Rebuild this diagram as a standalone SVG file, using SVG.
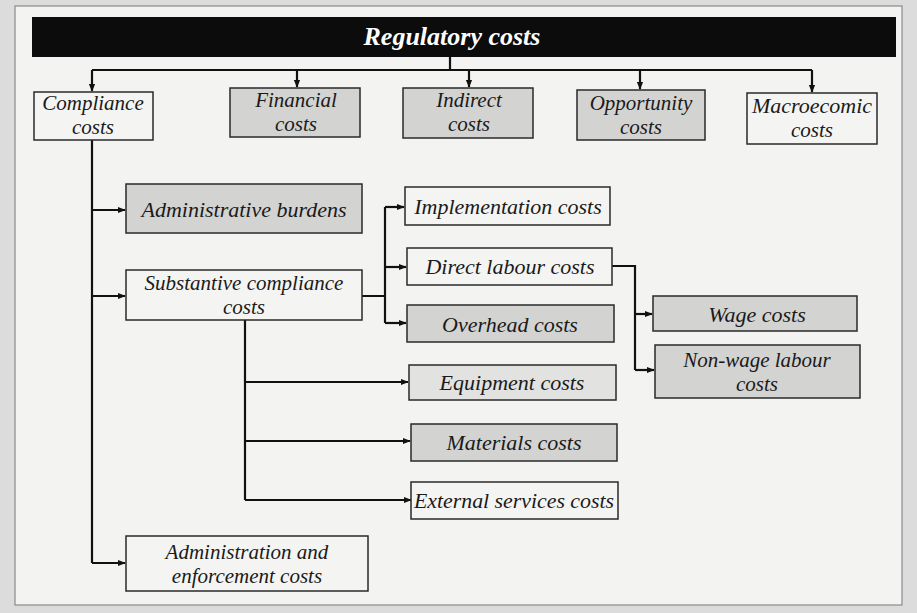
<svg xmlns="http://www.w3.org/2000/svg" width="917" height="613" viewBox="0 0 917 613">
<defs>
<marker id="ah" viewBox="0 0 10 10" refX="9" refY="5" markerWidth="8" markerHeight="8" orient="auto" markerUnits="userSpaceOnUse">
<path d="M0,1 L10,5 L0,9 Z" fill="#111"/>
</marker>
<style>
.bx{stroke:#2a2a2a;stroke-width:1.5}
.g{fill:#d3d3d1}
.w{fill:#f4f4f2}
.t{font-family:"Liberation Serif",serif;font-style:italic;font-size:22px;fill:#1a1a1a;text-anchor:middle}
.t2{font-size:21px}
.c{fill:none;stroke:#111;stroke-width:2.2}
</style>
</defs>
<rect x="0" y="0" width="917" height="613" fill="#dcdcdc"/>
<rect x="15" y="6" width="887" height="599" fill="#f3f3f1" stroke="#8a8a8a" stroke-width="1.2"/>

<g id="title">
<rect x="32" y="17" width="864" height="40" fill="#0c0c0c"/>
<text x="452" y="45" class="t" style="fill:#fff;font-size:26px;font-weight:bold">Regulatory costs</text>
</g>

<g id="connectors">
<path class="c" d="M450,57 V70 M92,70 H812"/>
<path class="c" d="M92,70 V91" marker-end="url(#ah)"/>
<path class="c" d="M297,70 V87" marker-end="url(#ah)"/>
<path class="c" d="M469,70 V87" marker-end="url(#ah)"/>
<path class="c" d="M640,70 V89" marker-end="url(#ah)"/>
<path class="c" d="M812,70 V92" marker-end="url(#ah)"/>
<path class="c" d="M92,140 V563"/>
<path class="c" d="M92,210 H125" marker-end="url(#ah)"/>
<path class="c" d="M92,296 H125" marker-end="url(#ah)"/>
<path class="c" d="M92,563 H125" marker-end="url(#ah)"/>
<path class="c" d="M362,296 H385 M385,207 V323"/>
<path class="c" d="M385,207 H404" marker-end="url(#ah)"/>
<path class="c" d="M385,267 H406" marker-end="url(#ah)"/>
<path class="c" d="M385,323 H406" marker-end="url(#ah)"/>
<path class="c" d="M612,266 H635 V370"/>
<path class="c" d="M635,314 H652" marker-end="url(#ah)"/>
<path class="c" d="M635,370 H654" marker-end="url(#ah)"/>
<path class="c" d="M245,320 V500"/>
<path class="c" d="M245,382 H408" marker-end="url(#ah)"/>
<path class="c" d="M245,441 H410" marker-end="url(#ah)"/>
<path class="c" d="M245,500 H411" marker-end="url(#ah)"/>
</g>

<g id="compliance">
<rect class="bx w" x="34" y="92" width="119" height="48"/>
<text class="t t2" x="93" y="110">Compliance</text>
<text class="t t2" x="93" y="134">costs</text>
</g>
<g id="financial">
<rect class="bx g" x="230" y="88" width="130" height="49"/>
<text class="t t2" x="296" y="107">Financial</text>
<text class="t t2" x="296" y="131">costs</text>
</g>
<g id="indirect">
<rect class="bx g" x="403" y="88" width="130" height="50"/>
<text class="t t2" x="469" y="107">Indirect</text>
<text class="t t2" x="469" y="131">costs</text>
</g>
<g id="opportunity">
<rect class="bx g" x="577" y="90" width="128" height="50"/>
<text class="t t2" x="641" y="110">Opportunity</text>
<text class="t t2" x="641" y="134">costs</text>
</g>
<g id="macro">
<rect class="bx w" x="747" y="93" width="130" height="51"/>
<text class="t t2" x="812" y="113" textLength="120" lengthAdjust="spacingAndGlyphs">Macroecomic</text>
<text class="t t2" x="812" y="137">costs</text>
</g>

<g id="admin-burdens">
<rect class="bx g" x="126" y="184" width="236" height="49"/>
<text class="t" x="244" y="217">Administrative burdens</text>
</g>
<g id="substantive">
<rect class="bx w" x="126" y="270" width="236" height="50"/>
<text class="t t2" x="244" y="290">Substantive compliance</text>
<text class="t t2" x="244" y="314">costs</text>
</g>
<g id="admin-enforcement">
<rect class="bx w" x="126" y="536" width="242" height="55"/>
<text class="t t2" x="247" y="559">Administration and</text>
<text class="t t2" x="247" y="583">enforcement costs</text>
</g>

<g id="implementation">
<rect class="bx w" x="405" y="187" width="205" height="38"/>
<text class="t" x="508" y="214">Implementation costs</text>
</g>
<g id="direct-labour">
<rect class="bx w" x="407" y="248" width="205" height="37"/>
<text class="t" x="510" y="274">Direct labour costs</text>
</g>
<g id="overhead">
<rect class="bx g" x="407" y="305" width="207" height="37"/>
<text class="t" x="510" y="332">Overhead costs</text>
</g>
<g id="wage">
<rect class="bx g" x="653" y="296" width="204" height="35"/>
<text class="t" x="757" y="322">Wage costs</text>
</g>
<g id="non-wage">
<rect class="bx g" x="655" y="345" width="205" height="53"/>
<text class="t t2" x="757" y="367">Non-wage labour</text>
<text class="t t2" x="757" y="391">costs</text>
</g>
<g id="equipment">
<rect class="bx g" x="409" y="365" width="207" height="35" style="fill:#e2e2e0"/>
<text class="t" x="512" y="390">Equipment costs</text>
</g>
<g id="materials">
<rect class="bx g" x="411" y="424" width="206" height="37"/>
<text class="t" x="514" y="450">Materials costs</text>
</g>
<g id="external">
<rect class="bx w" x="411" y="482" width="207" height="37"/>
<text class="t" x="514" y="508" textLength="200" lengthAdjust="spacingAndGlyphs">External services costs</text>
</g>
</svg>
